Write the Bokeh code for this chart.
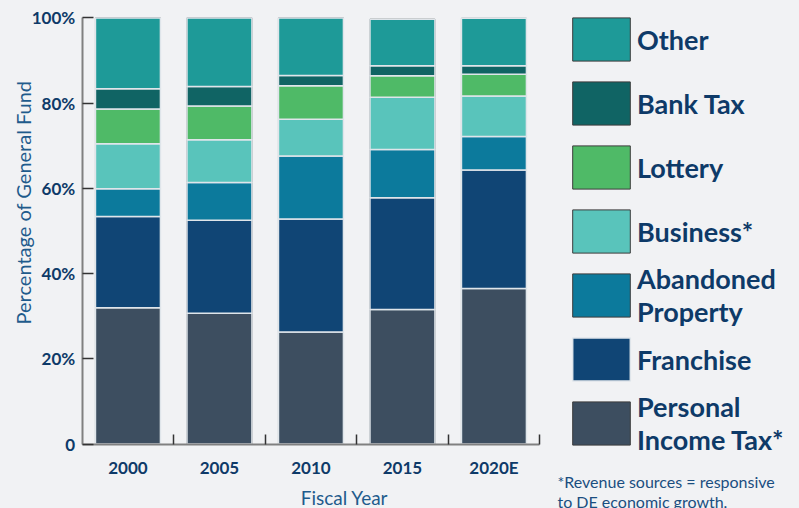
import math
from bokeh.plotting import figure
from bokeh.models import (Range1d, FixedTicker, Legend, LegendItem, Label,
                          LinearAxis, GlobalInlineStyleSheet)
from bokeh.embed import file_html
from bokeh.resources import INLINE

years = ["2000", "2005", "2010", "2015", "2020E"]
series = ["Personal Income Tax*", "Franchise", "Abandoned Property",
          "Business*", "Lottery", "Bank Tax", "Other"]
legend_labels = ["Personal\nIncome Tax*", "Franchise", "Abandoned\nProperty",
                 "Business*", "Lottery", "Bank Tax", "Other"]
personal_income_tax = [32.0, 30.7, 26.3, 31.6, 36.5]
franchise = [21.4, 21.8, 26.5, 26.2, 27.8]
abandoned_property = [6.5, 8.9, 14.8, 11.3, 7.9]
business = [10.6, 10.0, 8.6, 12.3, 9.5]
lottery = [8.1, 7.9, 7.9, 5.0, 5.1]
bank_tax = [4.8, 4.6, 2.4, 2.4, 2.0]
other = [16.6, 16.1, 13.5, 10.9, 11.1]
colors = ["#3d4e60", "#104575", "#0c7a9c", "#59c4bb", "#4fba67", "#106464", "#1e9a98"]
y_ticks = [0, 20, 40, 60, 80, 100]
y_tick_labels = ["0", "20%", "40%", "60%", "80%", "100%"]

BG = "#f1f2f4"
NAVY = "#0e3a68"
W, H = 799, 508

xs = [i + 0.5 for i in range(len(years))]
data = {"x": xs}
for name, vals in zip(series, [personal_income_tax, franchise, abandoned_property,
                               business, lottery, bank_tax, other]):
    data[name] = vals

# frame covers the whole canvas; axes are placed at data 0 via fixed_location
px_per_cat = 91.5
px_per_pct = 4.262
x0_px, y0_px = 81.7, 443.6
x_range = Range1d(-x0_px / px_per_cat, (W - x0_px) / px_per_cat)
y_range = Range1d(-(H - y0_px) / px_per_pct, 100 + (y0_px - px_per_pct * 100) / px_per_pct)

p = figure(width=W, height=H, output_backend="svg", toolbar_location=None,
           x_range=x_range, y_range=y_range,
           x_axis_location=None, y_axis_location=None, min_border=0)
p.background_fill_color = BG
p.border_fill_color = BG
p.outline_line_color = None
p.xgrid.visible = False
p.ygrid.visible = False

# swatch renderers for the legend (dark outline), hidden under the bars
swatches = p.vbar_stack(series, x="x", width=0.71, source=data, fill_color=colors,
                        line_color="#3c3c3c", line_width=1)
bars = p.vbar_stack(series, x="x", width=0.71, source=data, color=colors,
                    line_color="#dfe5ea", line_width=1.5)

legend_renderers = list(swatches)
legend_renderers[1] = bars[1]  # Franchise swatch has a light outline

# area legend glyphs are inset by 10% on each side -> 72x54 cell gives ~58x43 box
leg_style = dict(padding=0, margin=0, glyph_width=72, glyph_height=54,
                 label_height=54, spacing=10, label_standoff=0,
                 background_fill_alpha=0, border_line_color=None,
                 label_text_font="Lato", label_text_font_style="bold",
                 label_text_font_size="27px", label_text_color=NAVY,
                 label_text_line_height=1.0)


def items_for(idx):
    return [LegendItem(label=legend_labels[i], renderers=[legend_renderers[i]])
            for i in idx]


LX = 565
# top block: Other, Bank Tax, Lottery, Business*
p.add_layout(Legend(items=items_for([6, 5, 4, 3]), location=(LX, 250), **leg_style))
# Abandoned Property
p.add_layout(Legend(items=items_for([2]), location=(LX, 180), **leg_style))
# Franchise
p.add_layout(Legend(items=items_for([1]), location=(LX, 122), **leg_style))
# Personal Income Tax*
p.add_layout(Legend(items=items_for([0]), location=(LX, 52), **leg_style))

# y axis
ya = LinearAxis(fixed_location=0, bounds=(0, 100))
ya.ticker = FixedTicker(ticks=y_ticks, minor_ticks=[])
ya.major_label_overrides = {t: l for t, l in zip(y_ticks, y_tick_labels)}
ya.axis_line_color = "#808080"
ya.axis_line_width = 2
ya.major_tick_line_color = "#333333"
ya.major_tick_line_width = 1.5
ya.major_tick_in = 11
ya.major_tick_out = 0
ya.minor_tick_line_color = None
ya.major_label_standoff = 7
ya.major_label_text_font = "Lato"
ya.major_label_text_font_style = "bold"
ya.major_label_text_font_size = "17px"
ya.major_label_text_color = NAVY
p.add_layout(ya, "left")

# x axis
xa = LinearAxis(fixed_location=0, bounds=(0, len(years)))
xa.ticker = FixedTicker(ticks=xs, minor_ticks=list(range(1, len(years) + 1)))
xa.major_label_overrides = {x: y for x, y in zip(xs, years)}
xa.axis_line_color = "#808080"
xa.axis_line_width = 2
xa.major_tick_line_color = None
xa.minor_tick_line_color = "#333333"
xa.minor_tick_line_width = 1.5
xa.minor_tick_in = 10
xa.minor_tick_out = 0
xa.major_label_standoff = 7
xa.major_label_text_font = "Lato"
xa.major_label_text_font_style = "bold"
xa.major_label_text_font_size = "17px"
xa.major_label_text_color = NAVY
p.add_layout(xa, "below")

TITLE_C = "#1f5b8c"
p.add_layout(Label(x=22, y=H - 202, x_units="screen", y_units="screen",
                   text="Percentage of General Fund", angle=math.pi / 2,
                   text_align="center", text_baseline="middle",
                   text_font="Lato", text_font_size="20px", text_color=TITLE_C))
p.add_layout(Label(x=344, y=H - 496.5, x_units="screen", y_units="screen",
                   text="Fiscal Year", text_align="center", text_baseline="middle",
                   text_font="Lato", text_font_size="19px", text_color=TITLE_C))
p.add_layout(Label(x=557, y=H - 480.5, x_units="screen", y_units="screen",
                   text="*Revenue sources = responsive", text_align="left",
                   text_baseline="middle", text_font="Lato", text_font_size="16px",
                   text_color="#1a4e80"))
p.add_layout(Label(x=557, y=H - 500.5, x_units="screen", y_units="screen",
                   text="to DE economic growth.", text_align="left",
                   text_baseline="middle", text_font="Lato", text_font_size="16px",
                   text_color="#1a4e80"))

p.stylesheets = [GlobalInlineStyleSheet(
    css="html, body { margin: 0; padding: 0; background-color: #f1f2f4; }")]

open("out.html", "w").write(file_html(p, INLINE))
